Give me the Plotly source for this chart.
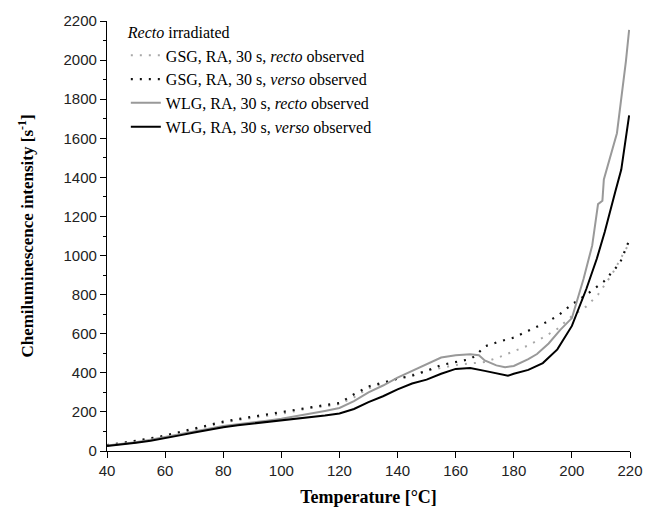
import plotly.graph_objects as go

# ---- data ----
t_gsg_recto = [40, 45, 50, 55, 60, 65, 70, 75, 80, 85, 90, 95, 100, 105, 110, 115, 120, 125, 130, 135, 140, 145, 150, 155, 160, 165, 170, 175, 180, 185, 190, 195, 200, 205, 209, 214, 219]
v_gsg_recto = [28, 38, 50, 62, 75, 92, 110, 128, 145, 158, 170, 180, 190, 205, 220, 228, 240, 275, 320, 345, 370, 390, 410, 425, 440, 448, 455, 480, 510, 540, 580, 625, 690, 740, 800, 909, 1044]

t_gsg_verso = [40, 45, 50, 55, 60, 65, 70, 75, 80, 85, 90, 95, 100, 105, 110, 115, 120, 125, 130, 135, 140, 145, 150, 155, 160, 165, 167, 170, 175, 180, 185, 190, 195, 200, 205, 211, 216.5, 219.7]
v_gsg_verso = [30, 40, 52, 65, 79, 97, 115, 133, 150, 163, 175, 188, 200, 212, 225, 235, 245, 290, 330, 350, 370, 385, 410, 440, 455, 470, 490, 535, 560, 580, 615, 650, 690, 750, 800, 867, 960, 1077]

t_wlg_recto = [40, 45, 50, 55, 60, 65, 70, 75, 80, 85, 90, 95, 100, 105, 110, 115, 120, 125, 130, 135, 140, 145, 150, 155, 160, 165, 168, 170, 174, 177, 180, 185, 188, 192, 196, 200, 204, 207, 209, 210.5, 211, 215.5, 218.6, 219.7]
v_wlg_recto = [28, 36, 45, 58, 72, 86, 100, 114, 128, 137, 145, 155, 165, 178, 190, 205, 220, 255, 300, 335, 375, 410, 445, 478, 490, 495, 490, 463, 438, 429, 435, 470, 496, 550, 620, 680, 880, 1052, 1263, 1280, 1389, 1626, 1995, 2155]

t_wlg_verso = [40, 45, 50, 55, 60, 65, 70, 75, 80, 85, 90, 95, 100, 105, 110, 115, 120, 125, 130, 135, 140, 145, 150, 155, 160, 165, 170, 175, 178, 180, 185, 190, 195, 200, 205, 208.6, 211.3, 215, 217, 219.7]
v_wlg_verso = [25, 33, 42, 53, 65, 80, 95, 109, 122, 132, 140, 148, 155, 163, 172, 182, 192, 215, 250, 280, 315, 345, 365, 395, 420, 425, 410, 395, 385, 395, 415, 450, 520, 640, 830, 985, 1120, 1330, 1440, 1717]

x_ticks = [40, 60, 80, 100, 120, 140, 160, 180, 200, 220]
y_ticks = [0, 200, 400, 600, 800, 1000, 1200, 1400, 1600, 1800, 2000, 2200]

SERIF = "Liberation Serif, Times New Roman, serif"
SANS = "Liberation Sans, Arial, sans-serif"

fig = go.Figure()
fig.add_trace(go.Scatter(x=t_gsg_recto, y=v_gsg_recto, mode="lines",
                         name="GSG, RA, 30 s, <i>recto</i> observed",
                         line=dict(color="#a8a8a8", width=2, dash="2px,7px")))
fig.add_trace(go.Scatter(x=t_gsg_verso, y=v_gsg_verso, mode="lines",
                         name="GSG, RA, 30 s, <i>verso</i> observed",
                         line=dict(color="#111111", width=2.2, dash="2px,7px")))
fig.add_trace(go.Scatter(x=t_wlg_recto, y=v_wlg_recto, mode="lines",
                         name="WLG, RA, 30 s, <i>recto</i> observed",
                         line=dict(color="#999999", width=2)))
fig.add_trace(go.Scatter(x=t_wlg_verso, y=v_wlg_verso, mode="lines",
                         name="WLG, RA, 30 s, <i>verso</i> observed",
                         line=dict(color="#000000", width=2)))

fig.update_layout(
    width=655, height=516,
    margin=dict(l=107, r=14, t=20, b=61),
    paper_bgcolor="white", plot_bgcolor="white",
    showlegend=True,
    legend=dict(
        x=0.036, y=1.008, xanchor="left", yanchor="top",
        title=dict(text="<i>Recto</i> irradiated", font=dict(family=SERIF, size=16, color="#000")),
        font=dict(family=SERIF, size=16, color="#000"),
        bgcolor="rgba(0,0,0,0)", itemwidth=30, tracegroupgap=0,
    ),
    xaxis=dict(
        range=[40, 220], tickvals=x_ticks, ticktext=[str(v) for v in x_ticks],
        showgrid=False, zeroline=False, showline=True, linecolor="black", linewidth=1.3,
        ticks="outside", ticklen=6, tickcolor="black", tickwidth=1.2,
        tickfont=dict(family=SANS, size=15, color="#222"),
        title=dict(text="<b>Temperature [°C]</b>", font=dict(family=SERIF, size=18, color="#000"), standoff=12),
    ),
    yaxis=dict(
        range=[0, 2200], tickvals=y_ticks, ticktext=[str(v) for v in y_ticks],
        showgrid=False, zeroline=False, showline=True, linecolor="black", linewidth=1.3,
        ticks="outside", ticklen=6, tickcolor="black", tickwidth=1.2,
        minor=dict(dtick=100, ticks="outside", ticklen=3, tickcolor="black", showgrid=False),
        tickfont=dict(family=SANS, size=15, color="#222"),
        title=dict(text="<b>Chemiluminescence intensity [s<sup>-1</sup>]</b>", font=dict(family=SERIF, size=17, color="#000"), standoff=25),
    ),
)

fig.write_html("out.html")
